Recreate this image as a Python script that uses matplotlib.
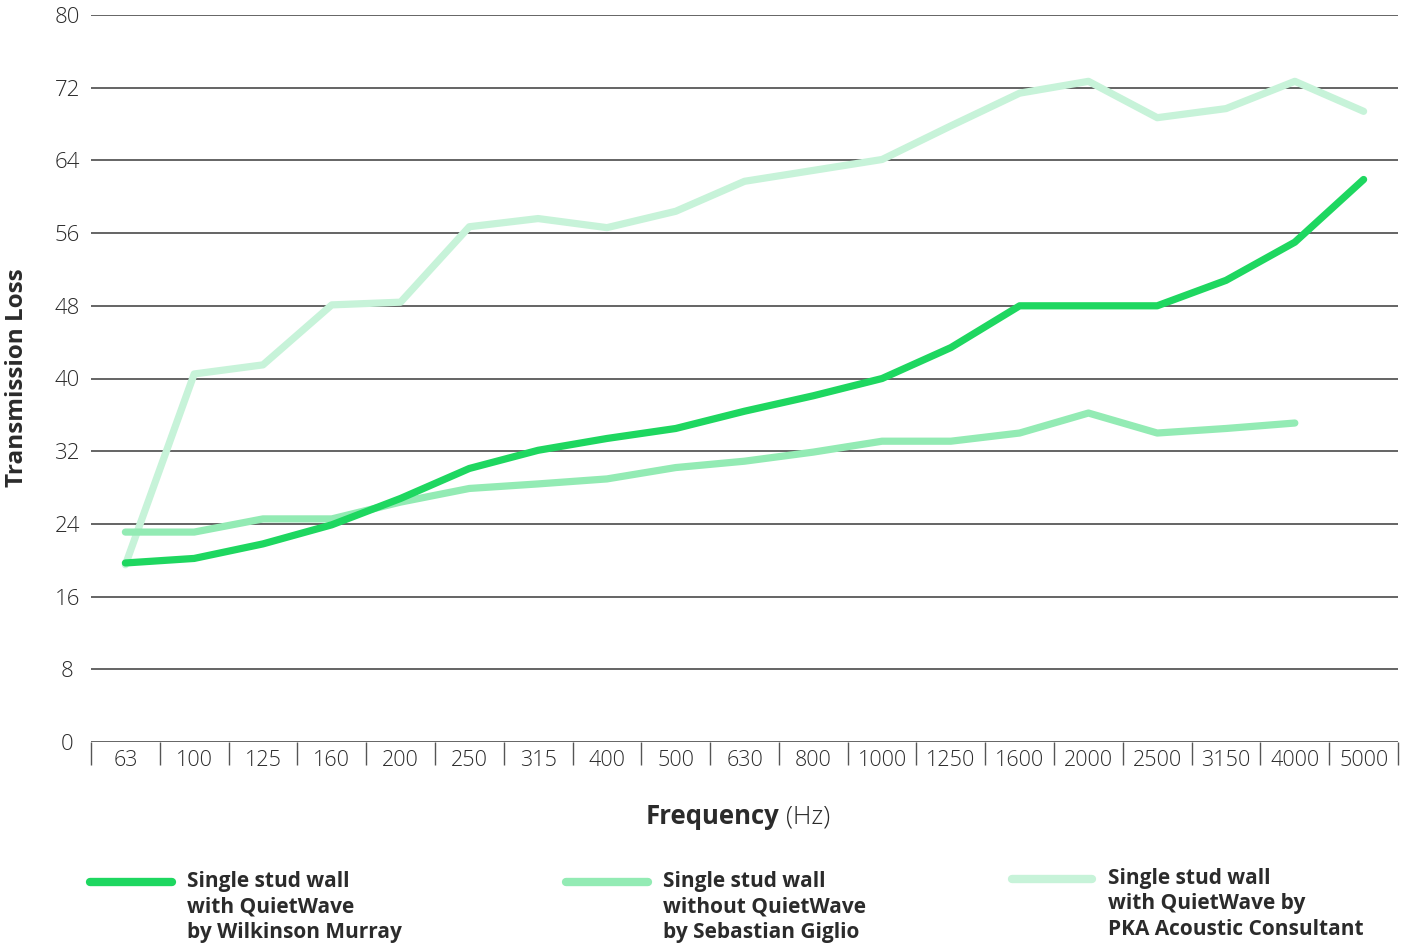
import numpy as np
import matplotlib.pyplot as plt
from matplotlib.lines import Line2D

plt.rcParams['font.family'] = ['Open Sans', 'DejaVu Sans']

# frequency bands (Hz)
freqs = ["63", "100", "125", "160", "200", "250", "315", "400", "500", "630",
         "800", "1000", "1250", "1600", "2000", "2500", "3150", "4000", "5000"]

# transmission loss
with_qw_wilkinson = [19.7, 20.2, 21.8, 23.9, 26.8, 30.1, 32.1, 33.4, 34.5, 36.4,
                     38.1, 40.0, 43.4, 48.0, 48.0, 48.0, 50.8, 55.0, 61.9]
without_qw_giglio = [23.1, 23.1, 24.55, 24.55, 26.4, 27.9, 28.4, 28.95, 30.2, 30.9,
                     31.9, 33.1, 33.1, 34.0, 36.2, 34.0, 34.5, 35.1, None]
with_qw_pka = [19.5, 40.5, 41.5, 48.1, 48.4, 56.7, 57.6, 56.6, 58.4, 61.7,
               62.9, 64.1, 67.8, 71.4, 72.7, 68.7, 69.7, 72.7, 69.4]

legend_labels = ["Single stud wall\nwith QuietWave\nby Wilkinson Murray",
                 "Single stud wall\nwithout QuietWave\nby Sebastian Giglio",
                 "Single stud wall\nwith QuietWave by\nPKA Acoustic Consultant"]

c_dark = '#1ed760'
c_mid = '#93ebb4'
c_light = '#c7f3d9'
text_col = '#2b2b2b'

fig = plt.figure(figsize=(14.11, 9.44), dpi=100)
ax = fig.add_axes([91/1411, 1 - 742/944, (1398 - 91)/1411, (742 - 15)/944])

x = np.arange(len(freqs))
giglio = np.array([np.nan if v is None else v for v in without_qw_giglio])

lw = 5.2
ax.plot(x, with_qw_pka, color=c_light, lw=lw, solid_capstyle='round', solid_joinstyle='round', zorder=3)
ax.plot(x, giglio, color=c_mid, lw=lw, solid_capstyle='round', solid_joinstyle='round', zorder=4)
ax.plot(x, with_qw_wilkinson, color=c_dark, lw=lw, solid_capstyle='round', solid_joinstyle='round', zorder=5)

ax.set_xlim(-0.5, len(freqs) - 0.5)
ax.set_ylim(0, 80)
ax.set_yticks(np.arange(0, 81, 8))
ax.grid(axis='y', color='#3a3a3a', lw=1.1)
ax.set_axisbelow(True)
for s in ax.spines.values():
    s.set_visible(False)

ax.tick_params(axis='y', length=0, pad=17, labelsize=16, labelcolor=text_col)
for lab in ax.get_yticklabels():
    lab.set_horizontalalignment('center')
    lab.set_fontweight('light')

ax.set_xticks(x)
ax.set_xticklabels(freqs)
ax.set_xticks(np.arange(len(freqs) + 1) - 0.5, minor=True)
ax.tick_params(axis='x', which='major', length=0, pad=5.5, labelsize=15.5, labelcolor=text_col)
ax.tick_params(axis='x', which='minor', length=16.5, width=1, color='#555555', direction='out')
for lab in ax.get_xticklabels():
    lab.set_fontweight('light')

fig.text(17/1411, 1 - 378/944, 'Transmission Loss', rotation=90, ha='center', va='center',
         fontsize=17.5, fontweight='bold', color=text_col)
fig.text(779/1411, 1 - 817/944, 'Frequency', ha='right', va='center', fontsize=18.5,
         fontweight='bold', color=text_col)
fig.text(786/1411, 1 - 817/944, '(Hz)', ha='left', va='center', fontsize=18.5,
         fontweight='light', color=text_col)

# legend drawn by hand in three columns
leg_cols = [c_dark, c_mid, c_light]
leg_x = [(90, 172, 187), (566, 648, 663), (1012, 1092, 1108)]
leg_y = [882, 882, 879]
for (x0, x1, xt), yy, col, lab in zip(leg_x, leg_y, leg_cols, legend_labels):
    fig.add_artist(Line2D([x0/1411, x1/1411], [1 - yy/944, 1 - yy/944], color=col, lw=6,
                          solid_capstyle='round', transform=fig.transFigure))
    fig.text(xt/1411, 1 - (yy - 11)/944, lab, ha='left', va='top', fontsize=15,
             fontweight='bold', color=text_col, linespacing=1.28)

fig.savefig('out.png', dpi=100)
